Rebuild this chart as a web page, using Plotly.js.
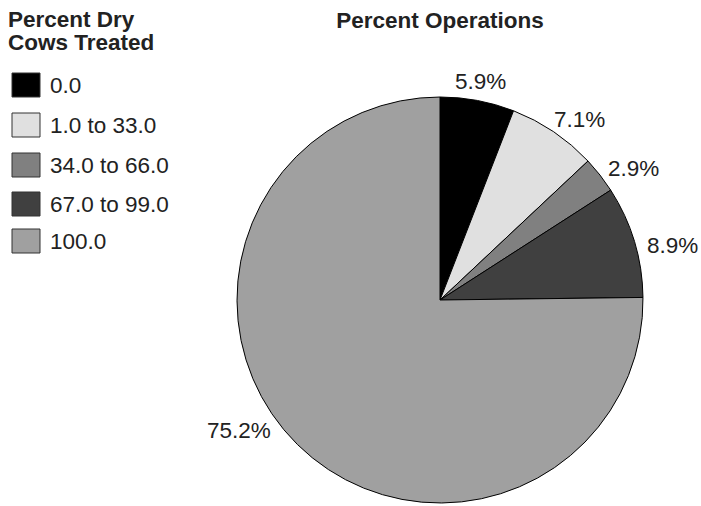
<!DOCTYPE html>
<html><head><meta charset="utf-8">
<script src="https://cdn.plot.ly/plotly-3.0.1.min.js"></script>
<style>body{margin:0;background:#fff}#chart{width:701px;height:506px}</style>
</head><body><div id="chart"></div>
<script>
const categories = ["0.0", "1.0 to 33.0", "34.0 to 66.0", "67.0 to 99.0", "100.0"];
const percents = [5.9, 7.1, 2.9, 8.9, 75.2];
const colors = ["#000000", "#e0e0e0", "#808080", "#404040", "#a0a0a0"];
const legendTitle = ["Percent Dry", "Cows Treated"];
const chartTitle = "Percent Operations";

const W = 701, H = 506;
const px = x => x / W;
const py = y => 1 - y / H;
const FONT = "Liberation Sans, Arial, sans-serif";
const FS = 22.5;
const TXT = "#222";

// pie geometry (pixels)
const CX = 440, CY = 300, RAD = 203;
// label placement style
const labelR = 215;
const labelAngleAdjust = [-1, 1.5, 1.5, 2.3, 10];

const shapes = [];
const annotations = [];
const rowY = [85, 125, 165, 204, 241];
categories.forEach((c, i) => {
  const yc = rowY[i];
  shapes.push({type: "rect", xref: "paper", yref: "paper",
    x0: px(12), x1: px(40), y0: py(yc - 12), y1: py(yc + 12),
    fillcolor: colors[i], line: {color: "#333", width: 1}});
  annotations.push({text: c, xref: "paper", yref: "paper", x: px(48), y: py(yc),
    xanchor: "left", yanchor: "middle", showarrow: false,
    font: {family: FONT, size: FS, color: TXT}});
});
legendTitle.forEach((t, i) => {
  annotations.push({text: "<b>" + t + "</b>", xref: "paper", yref: "paper",
    x: px(6), y: py(20 + i * 23), xanchor: "left", yanchor: "middle", showarrow: false,
    font: {family: FONT, size: FS, color: TXT}});
});

// slice value labels, placed at each slice's mid-angle
const total = percents.reduce((a, b) => a + b, 0);
let cum = 0;
percents.forEach((v, i) => {
  const mid = (cum + v / 2) / total * 360 + labelAngleAdjust[i];
  cum += v;
  const t = mid * Math.PI / 180;
  const dx = Math.sin(t), dy = -Math.cos(t);
  const txt = v.toFixed(1) + "%";
  const w = txt.length * 0.565 * FS, h = 16;
  const bx = CX + labelR * dx + dx * w / 2;
  const by = CY + labelR * dy + dy * h / 2;
  annotations.push({text: txt, xref: "paper", yref: "paper", x: px(bx), y: py(by + 1),
    xanchor: "center", yanchor: "middle", showarrow: false,
    font: {family: FONT, size: FS, color: TXT}});
});

const data = [{
  type: "pie",
  labels: categories,
  values: percents,
  sort: false,
  direction: "clockwise",
  rotation: 0,
  marker: {colors: colors, line: {color: "#000", width: 1}},
  textinfo: "none",
  hoverinfo: "none",
  showlegend: false,
  domain: {x: [px(CX - RAD), px(CX + RAD)], y: [py(CY + RAD), py(CY - RAD)]}
}];

const layout = {
  width: W, height: H,
  margin: {l: 0, r: 0, t: 0, b: 0},
  paper_bgcolor: "#fff",
  showlegend: false,
  title: {text: "<b>" + chartTitle + "</b>", x: px(440), xanchor: "center",
    y: py(20), yanchor: "middle",
    font: {family: FONT, size: FS, color: TXT}},
  shapes: shapes,
  annotations: annotations
};
Plotly.newPlot("chart", data, layout, {displayModeBar: false, staticPlot: true});
</script></body></html>
